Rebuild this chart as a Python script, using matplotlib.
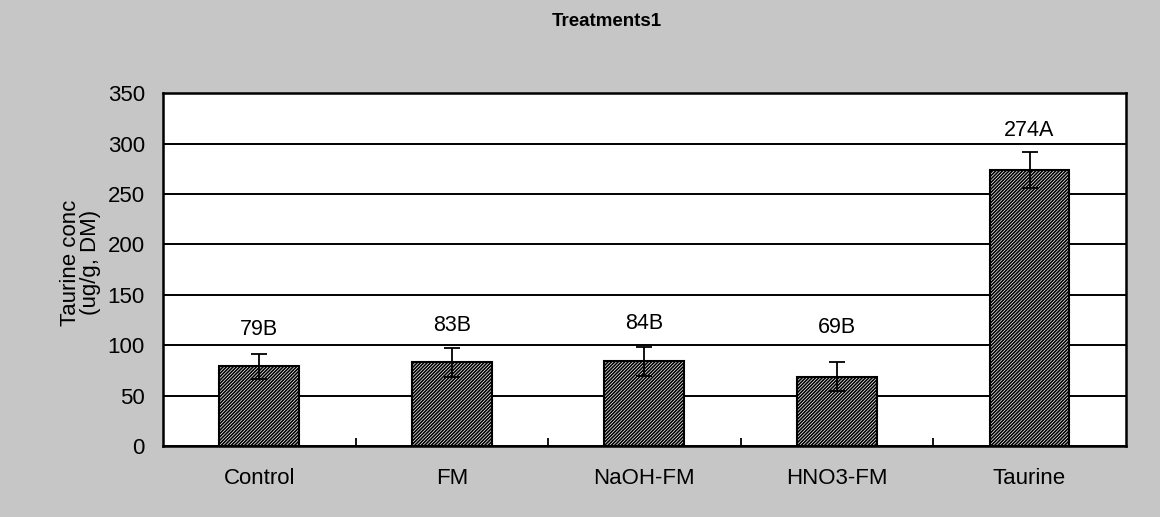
import numpy as np
import matplotlib.pyplot as plt
from matplotlib.ticker import FixedLocator

plt.rcParams['font.family'] = ['Liberation Sans', 'DejaVu Sans']
plt.rcParams['hatch.linewidth'] = 1.2

# data
treatments = ['Control', 'FM', 'NaOH-FM', 'HNO3-FM', 'Taurine']
taurine_conc = [79, 83, 84, 69, 274]
conc_err = [12, 14, 14, 14, 18]
letters = ['79B', '83B', '84B', '69B', '274A']
letter_y = [116, 120, 122, 118, 313]

fig = plt.figure(figsize=(11.6, 5.17), dpi=100, facecolor='#c6c6c6')
ax = fig.add_axes([0.1405, 0.137, 0.830, 0.683])
ax.set_facecolor('white')

x = np.arange(len(treatments))
ax.bar(x, taurine_conc, width=0.415, color='white', edgecolor='black',
       linewidth=1.5, hatch='//////////', zorder=3)
ax.errorbar(x, taurine_conc, yerr=conc_err, fmt='none', ecolor='black',
            elinewidth=1.3, capsize=6, capthick=1.3, zorder=4)

for xi, yy, txt in zip(x, letter_y, letters):
    ax.text(xi, yy, txt, ha='center', va='center', fontsize=15.5)

ax.set_xlim(-0.5, len(treatments) - 0.5)
ax.set_ylim(0, 350)
ax.set_yticks(range(0, 351, 50))
ax.yaxis.grid(True, color='black', linewidth=1.4)
ax.set_axisbelow(True)
ax.tick_params(axis='y', length=0, labelsize=16, pad=13)

ax.set_xticks(x)
ax.set_xticklabels(treatments, fontsize=16)
ax.tick_params(axis='x', which='major', length=0, pad=16)
ax.xaxis.set_minor_locator(FixedLocator(np.arange(0.5, len(treatments) - 1, 1.0)))
ax.tick_params(axis='x', which='minor', direction='in', length=6, width=1.3)

for s in ax.spines.values():
    s.set_linewidth(1.8)

ax.set_ylabel('Taurine conc\n(ug/g, DM)', fontsize=16, linespacing=0.95)
ax.yaxis.set_label_coords(-0.064, 0.52)
fig.text(0.523, 0.958, 'Treatments1', ha='center', va='center',
         fontsize=13.5, fontweight='bold')

fig.savefig('out.png', dpi=100, facecolor=fig.get_facecolor())
